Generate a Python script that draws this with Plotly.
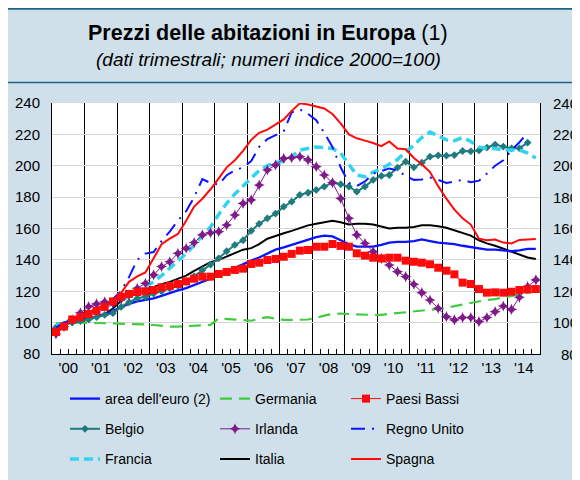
import plotly.graph_objects as go

# ---------------- data ----------------
years = list(range(2000, 2015))
quarters = [f"{y}-{m:02d}-15" for y in years for m in (2, 5, 8, 11)]
y_ticks = [80, 100, 120, 140, 160, 180, 200, 220, 240]

euro_area = [97, 99, 100.5, 101.5, 102.5, 104, 105.5, 107.5, 110, 112, 113.5, 114.5,
             115.5, 117, 119, 120.5, 122, 124, 126, 128, 130, 132.5, 135, 137.5,
             139.5, 141.5, 144, 146.5, 148, 149.5, 151.5, 153, 154.5, 155.5, 155, 152.5,
             150, 148.5, 148.5, 148.5, 149.5, 151, 151.5, 151.5, 152, 153, 152, 151,
             150.5, 150, 149, 148, 147, 146.5, 146.5, 146, 145.5, 146, 147, 147]
germania = [99.6, 100, 100, 100, 100, 99.8, 99.6, 99.5, 99.4, 99.2, 99, 98.8,
            98.5, 98, 97.5, 97.5, 97.8, 98, 98.2, 98.5, 102.7, 102.3, 101.8, 101.4,
            101.2, 102.5, 103.5, 102.5, 101.7, 101.7, 101.7, 102, 103, 104.5, 105.5, 105.8,
            105.5, 105.2, 104.9, 104.9, 105, 105.5, 106, 106.5, 107, 107.4, 107.9, 108.4,
            109.3, 110.5, 111.5, 112.5, 113.8, 114.5, 115, 116, 117, 118, 119, 120]
paesi_bassi = [94, 97.5, 102, 103.5, 105.5, 107.5, 110, 113.5, 116.5, 118.3, 119.5, 120,
               120.8, 122.5, 123.3, 124.6, 126.3, 128, 129.3, 129.3, 131, 132.3, 133.6, 134.4,
               137.4, 138.2, 139.9, 140.6, 142, 143.8, 145.9, 146.3, 148.4, 148.4, 150.1, 148.9,
               148.4, 144.2, 142.7, 141.4, 140.9, 141.4, 141.4, 139.5, 138.8, 138.2, 137.2, 135,
               133.1, 130.8, 125.5, 124.6, 121.4, 119.1, 119.3, 119.1, 119.7, 120.8, 121.2, 121.4]
belgio = [97, 98.5, 100, 101, 102, 103.5, 105, 106, 110, 113, 115.5, 116.5,
          118.5, 120, 121.9, 123.5, 126, 129.5, 133.5, 137, 141, 145.5, 149.5, 152.5,
          158.5, 163, 166.5, 169.5, 173.9, 177.1, 181.4, 182.8, 184.6, 186.7, 189.2, 188.2,
          186.7, 183.5, 186.7, 191, 193.5, 194.1, 198.8, 202.6, 199, 201.9, 205.8, 206.6,
          206.4, 206.8, 209.4, 209.2, 209.8, 211.6, 213.5, 212.2, 211.1, 211.1, 214.7, None]
irlanda = [92.8, 97.4, 101.7, 106.3, 110.2, 111.9, 113.3, 112.3, 115, 117.6, 121.9, 125.1,
           130.4, 135.7, 138.8, 144.2, 147.4, 151, 155.9, 157.3, 158, 162.2, 168.6, 176,
           178.2, 187.7, 197.3, 200.5, 204.7, 205.1, 205.8, 203.7, 199.4, 194.1, 189.2, 179.2,
           166.5, 155.9, 150.6, 145.2, 140.9, 136.7, 132.5, 129.3, 124.4, 119.1, 114.4, 109.1,
           103.8, 101.7, 103.2, 103.2, 100.6, 103.2, 107, 110.6, 108.4, 116.1, 122.9, 127.2]
regno_unito = [97, 100, 102, 104, 106, 109, 112, 115, 120, 129, 140, 144,
               145, 152, 158, 165, 171, 180, 191.5, 189, 188, 194, 197, 199,
               203, 212, 217, 219.5, 222, 234, 236, 233, 229, 221, 212, 199,
               189, 187, 190, 195, 196.5, 198.3, 197, 193.5, 191, 191.3, 192.5, 191,
               189, 190, 191, 189.5, 190.5, 195, 200, 203.5, 210, 215, 221, None]
francia = [98, 100, 102, 104, 106, 108, 110, 112, 114, 117, 120, 122.5,
           126, 130, 134.5, 139, 144, 149.5, 155, 161, 169, 176, 182, 187,
           192, 197, 200, 202, 203, 206, 210, 211, 212, 211.5, 211, 208,
           201, 194, 193, 196, 198, 201, 204, 209, 213, 218, 221.5, 219,
           216.5, 216, 218, 215.5, 212, 211, 211, 210, 210, 210, 208, 205]
italia = [97.5, 99, 100, 101, 102, 103.5, 105.5, 109, 114, 117, 119, 121,
          123, 124.5, 126, 128, 130, 133, 136, 138.5, 140, 142, 144.5, 146.5,
          147.5, 150, 153.5, 155.5, 157, 158.5, 160.5, 162, 163, 164, 165, 164,
          162.5, 163, 163, 162.5, 161, 160, 160.5, 160.5, 161, 162, 162, 161.5,
          160.5, 159, 157.5, 155.5, 152.5, 150.5, 149, 147, 145, 143, 141.5, 140.5]
spagna = [95.5, 98.5, 101, 103.5, 106.5, 109, 111.5, 114, 119, 126, 129.5, 132,
          141, 150, 153.5, 156.5, 165, 174, 179, 185, 192, 199, 203.5, 209.5,
          216.5, 221, 223, 226.5, 229.5, 235, 239.8, 239, 237.8, 236.5, 233, 227,
          220, 217.5, 216, 214.5, 212.5, 215.5, 211, 210.5, 205, 201, 196, 187,
          179, 172, 166.5, 162.5, 153.5, 152.5, 153, 151, 150.5, 152.7, 153, 153.3]

# ---------------- styling ----------------
FONT = "Liberation Sans, Arial, Helvetica, sans-serif"
W, H = 580, 480
ML, MR, MT, MB = 44, 48, 95, 134
PW, PH = W - ML - MR, H - MT - MB
BG = "#cfe0ea"
DARK = "#1d6487"


def px_x(p):
    return (p - ML) / PW


def px_y(p):
    return (H - MB - p) / PH


fig = go.Figure()


def add(name, y, color, width, dash="solid", marker=None, legend="legend", rank=1):
    mode = "lines+markers" if marker else "lines"
    fig.add_trace(go.Scatter(
        x=quarters, y=y, name=name, mode=mode,
        line=dict(color=color, width=width, dash=dash),
        marker=marker, legend=legend, legendgroup=name, legendrank=rank,
        connectgaps=False, hoverinfo="skip"))


add("Germania", germania, "#3fcc3f", 2.2, "12px,7px", legend="legend2", rank=1)
add("Italia", italia, "#000000", 2, legend="legend2", rank=3)
add("area dell'euro (2)", euro_area, "#0a14ff", 2.3, legend="legend", rank=1)
add("Belgio", belgio, "#1f7b7d", 2,
    marker=dict(symbol="diamond", size=6, color="#1f7b7d"), legend="legend", rank=2)
add("Francia", francia, "#33d3f0", 3.5, "9px,5px", legend="legend", rank=3)
add("Regno Unito", regno_unito, "#0a14ff", 2, "14px,7px,2px,7px", legend="legend3", rank=2)
add("Spagna", spagna, "#ff0a0a", 2, legend="legend3", rank=3)
add("Irlanda", irlanda, "#7f1a8a", 1,
    marker=dict(symbol="star-diamond", size=8, color="#7f1a8a"), legend="legend2", rank=2)
add("Paesi Bassi", paesi_bassi, "#ff0a0a", 1,
    marker=dict(symbol="square", size=8, color="#ff0a0a"), legend="legend3", rank=1)

leg_common = dict(xref="container", yref="container", xanchor="left", yanchor="top",
                  orientation="v", bgcolor="rgba(0,0,0,0)", borderwidth=0,
                  font=dict(size=14, family=FONT, color="black"),
                  tracegroupgap=9, itemwidth=30)

shapes = [
    dict(type="line", xref="paper", yref="paper", x0=px_x(0), x1=px_x(W + 2),
         y0=px_y(0.5), y1=px_y(0.5), line=dict(color=DARK, width=2.5), layer="above"),
    dict(type="line", xref="paper", yref="paper", x0=px_x(0), x1=px_x(W + 2),
         y0=px_y(74.5), y1=px_y(74.5), line=dict(color=DARK, width=1.5), layer="above"),
]

annotations = [
    dict(text="<b>Prezzi delle abitazioni in Europa</b> (1)", xref="paper", yref="paper",
         x=px_x(260), y=px_y(25), xanchor="center", yanchor="middle", showarrow=False,
         font=dict(size=21.5, family=FONT, color="black")),
    dict(text="<i>(dati trimestrali; numeri indice 2000=100)</i>", xref="paper", yref="paper",
         x=px_x(260), y=px_y(52), xanchor="center", yanchor="middle", showarrow=False,
         font=dict(size=19, family=FONT, color="black")),
]
for v in y_ticks:
    annotations.append(dict(text=str(v), xref="paper", yref="y", x=px_x(572), y=v,
                            xanchor="right", yanchor="middle", showarrow=False,
                            font=dict(size=15, family=FONT, color="black")))

fig.update_layout(
    width=W, height=H,
    margin=dict(l=ML, r=MR, t=MT, b=MB, pad=0, autoexpand=False),
    paper_bgcolor=BG, plot_bgcolor="white",
    font=dict(family=FONT, color="black"),
    showlegend=True,
    legend=dict(**leg_common, x=57 / W, y=1 - 375 / H),
    legend2=dict(**leg_common, x=207 / W, y=1 - 375 / H),
    legend3=dict(**leg_common, x=338 / W, y=1 - 375 / H),
    shapes=shapes,
    annotations=annotations,
    xaxis=dict(
        type="date", range=["2000-01-01", "2015-01-01"],
        tick0="2000-01-01", dtick="M12", ticklabelmode="period", tickformat="'%y",
        showgrid=True, gridcolor="black", gridwidth=1,
        showline=True, linecolor="black", linewidth=1, mirror=False,
        ticks="", tickfont=dict(size=15, family=FONT, color="black"),
        minor=dict(dtick="M3", ticks="inside", ticklen=5, tickcolor="black",
                   tickwidth=1, showgrid=False),
        zeroline=False, fixedrange=True, automargin=False,
    ),
    yaxis=dict(
        range=[80, 240], tickvals=y_ticks, ticktext=[str(v) for v in y_ticks],
        showgrid=True, gridcolor="#d6d6d6", gridwidth=1,
        showline=True, linecolor="black", linewidth=1, mirror=True,
        ticks="", ticklabelstandoff=8,
        tickfont=dict(size=15, family=FONT, color="black"),
        zeroline=False, fixedrange=True, automargin=False,
    ),
)

fig.write_html("out.html")
